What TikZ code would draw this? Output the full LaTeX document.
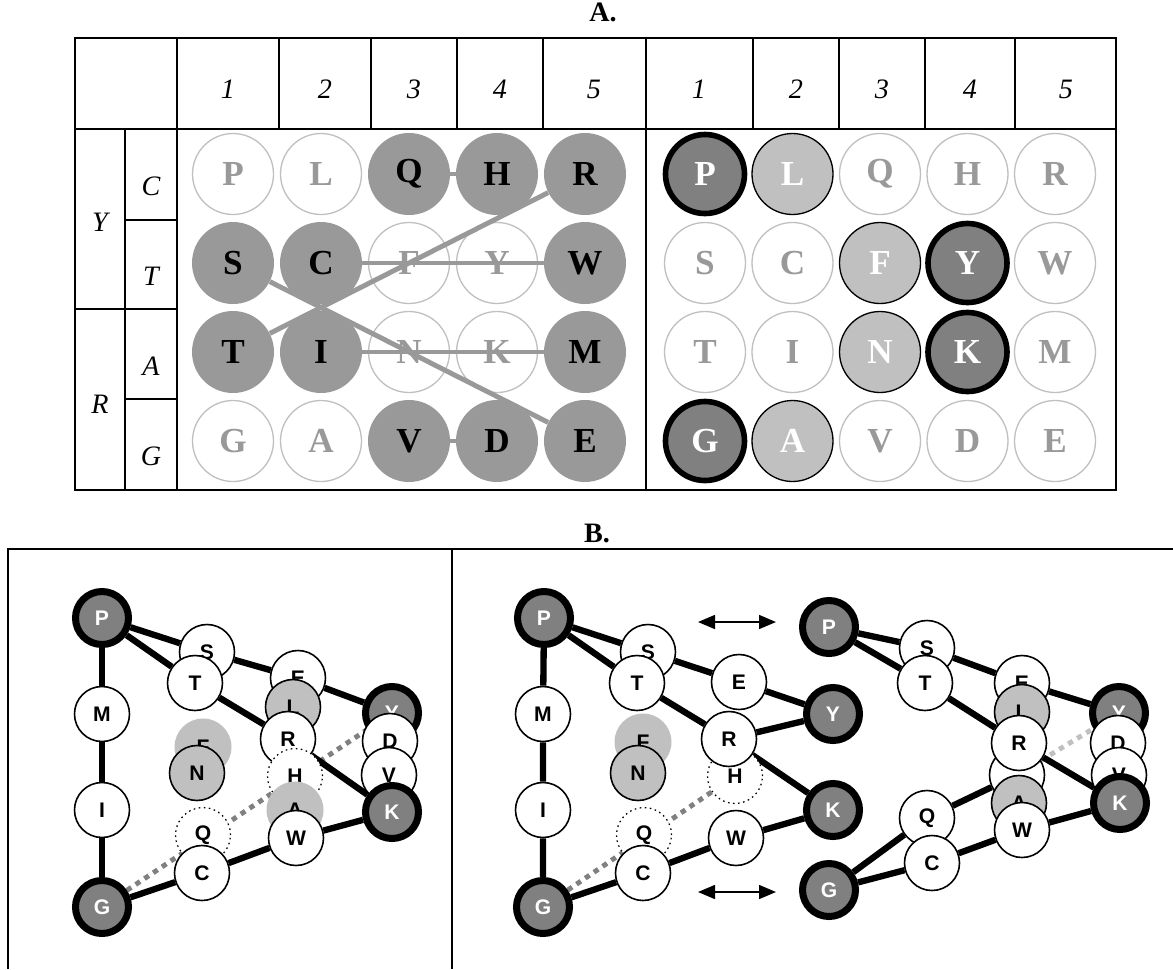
\documentclass[tikz,border=0pt]{standalone}
\usepackage{fontspec}
\setmainfont{Liberation Serif}
\newfontfamily\arialfont{Liberation Sans}
\usetikzlibrary{arrows.meta,backgrounds}
\definecolor{midgray}{HTML}{999999}
\definecolor{keygray}{HTML}{808080}
\definecolor{palegray}{HTML}{C0C0C0}

\begin{document}
\begin{tikzpicture}[x=0.2mm,y=-0.2mm,
  gridline/.style={line width=1.1pt},
  headtxt/.style={font=\fontsize{16}{19}\selectfont\itshape},
  titletxt/.style={font=\fontsize{16}{19}\selectfont\bfseries},
  cell/.style={circle,inner sep=0pt,minimum size=1.62cm,font=\fontsize{20}{24}\selectfont\bfseries},
  offcell/.style={cell,draw=palegray,line width=0.75pt,fill=white,text=midgray},
  oncell/.style={cell,minimum size=1.64cm,fill=midgray,text=black},
  keycell/.style={cell,minimum size=1.58cm,draw=black,line width=3.2pt,fill=keygray,text=white},
  sidecell/.style={cell,draw=black,line width=0.75pt,fill=palegray,text=white},
  gridtrace/.style={midgray,line width=2.8pt},
  res/.style={circle,inner sep=0pt,minimum size=1.1cm,draw=black,line width=0.9pt,fill=white,
    font=\arialfont\fontsize{12}{14}\selectfont\bfseries},
  hub/.style={res,minimum size=1.06cm,line width=4pt,fill=keygray,text=white},
  shadedres/.style={res,fill=palegray},
  ghost/.style={res,draw=none,fill=palegray,minimum size=1.14cm},
  hole/.style={res,dotted,line width=0.7pt},
  bond/.style={line width=3.6pt},
  link/.style={keygray,line width=2.8pt,dash pattern=on 3pt off 3pt},
  exchange/.style={line width=0.9pt,{Triangle[length=3.4mm,width=2.8mm]}-{Triangle[length=3.4mm,width=2.8mm]}}]
\useasboundingbox (0,0) rectangle (1173,969);

% Part A: table frame
\node[titletxt] (titleA) at (603,12) {A.};
\draw[gridline] (75,38) rectangle (1116,490);
\draw[gridline] (75,129) -- (1116,129);
\draw[gridline] (177,38) -- (177,490);
\draw[gridline] (646,38) -- (646,490);
\draw[gridline] (125,129) -- (125,490);
\draw[gridline] (75,309) -- (177,309);
\draw[gridline] (125,220) -- (177,220);
\draw[gridline] (125,399) -- (177,399);
\foreach \x in {279,371,457,543,753,839,925,1015}
  \draw[gridline] (\x,38) -- (\x,129);

% column and row headings
\foreach \n/\x in {1/228,2/325,3/414,4/500,5/594}
  \node[headtxt] (hl-\n) at (\x,89) {\n};
\foreach \n/\x in {1/699,2/796,3/882,4/970,5/1066}
  \node[headtxt] (hr-\n) at (\x,89) {\n};
\node[headtxt] (rowY) at (100,222) {Y};
\node[headtxt] (rowR) at (100,404) {R};
\node[headtxt] (rowC) at (151,186) {C};
\node[headtxt] (rowT) at (151,276) {T};
\node[headtxt] (rowA) at (151,366) {A};
\node[headtxt] (rowG) at (151,456) {G};

% left grid
\foreach \l/\c/\r in {P/1/1,L/2/1,F/3/2,Y/4/2,N/3/3,K/4/3,G/1/4,A/2/4}
  \node[offcell] (gl-\l) at ({145+88*\c},{85+89*\r}) {\l};
\foreach \l/\c/\r in {Q/3/1,H/4/1,R/5/1,S/1/2,C/2/2,W/5/2,T/1/3,I/2/3,M/5/3,V/3/4,D/4/4,E/5/4}
  \node[oncell] (gl-\l) at ({145+88*\c},{85+89*\r}) {\l};
\draw[gridtrace] (gl-Q) -- (gl-H);
\draw[gridtrace] (gl-V) -- (gl-D);
\draw[gridtrace] (gl-C) -- (gl-W);
\draw[gridtrace] (gl-I) -- (gl-M);
\draw[gridtrace] (gl-R) -- (gl-T);
\draw[gridtrace] (gl-S) -- (gl-E);

% right grid
\foreach \l/\c/\r in {Q/3/1,H/4/1,R/5/1,S/1/2,C/2/2,W/5/2,T/1/3,I/2/3,M/5/3,V/3/4,D/4/4,E/5/4}
  \node[offcell] (gr-\l) at ({617.5+87.5*\c},{85+89*\r}) {\l};
\foreach \l/\c/\r in {L/2/1,F/3/2,N/3/3,A/2/4}
  \node[sidecell] (gr-\l) at ({617.5+87.5*\c},{85+89*\r}) {\l};
\foreach \l/\c/\r in {P/1/1,Y/4/2,K/4/3,G/1/4}
  \node[keycell] (gr-\l) at ({617.5+87.5*\c},{85+89*\r}) {\l};

% Part B: frame
\node[titletxt] (titleB) at (597,533) {B.};
\draw[gridline] (8,969) -- (8,549) -- (1173,549);
\draw[gridline] (452,549) -- (452,969);

% left panel
\node[hub] (bl-P) at (102,618) {P};
\node[res] (bl-M) at (102,714) {M};
\node[res] (bl-I) at (102,810) {I};
\node[hub] (bl-G) at (102,907) {G};
\node[res] (bl-S) at (207,652) {S};
\node[res] (bl-T) at (195,683) {T};
\node[res] (bl-E) at (298,678) {E};
\node[shadedres] (bl-L) at (293,707) {L};
\node[res] (bl-R) at (288,739) {R};
\node[hole] (bl-H) at (295,776) {H};
\node[ghost] (bl-A) at (295,810) {A};
\node[res] (bl-W) at (296,838) {W};
\node[hub] (bl-Y) at (392,713) {Y};
\node[res] (bl-D) at (390,741) {D};
\node[res] (bl-V) at (389,775) {V};
\node[hub] (bl-K) at (392,812) {K};
\node[ghost] (bl-F) at (203,747) {F};
\node[shadedres] (bl-N) at (197,773) {N};
\node[hole] (bl-Q) at (203,835) {Q};
\node[res] (bl-C) at (202,873) {C};
\begin{scope}[on background layer]
\draw[link] (bl-G) -- (bl-Y);
\draw[bond] (bl-P) -- (bl-S) -- (bl-E) -- (bl-Y);
\draw[bond] (bl-P) -- (bl-T) -- (bl-R) -- (bl-K);
\draw[bond] (bl-P) -- (bl-M) -- (bl-I) -- (bl-G);
\draw[bond] (bl-G) -- (bl-C) -- (bl-W) -- (bl-K);
\end{scope}

% middle panel
\node[hub] (bm-P) at (544,618) {P};
\node[res] (bm-M) at (543,714) {M};
\node[res] (bm-I) at (543,810) {I};
\node[hub] (bm-G) at (543,907) {G};
\node[res] (bm-S) at (648,652) {S};
\node[res] (bm-T) at (637,683) {T};
\node[res] (bm-E) at (739,682) {E};
\node[hole] (bm-H) at (735,776) {H};
\node[res] (bm-R) at (729,739) {R};
\node[res] (bm-W) at (736,838) {W};
\node[ghost] (bm-F) at (643,742) {F};
\node[shadedres] (bm-N) at (638,773) {N};
\node[hole] (bm-Q) at (644,835) {Q};
\node[res] (bm-C) at (643,873) {C};
\node[hub] (bm-Y) at (833,714) {Y};
\node[hub] (bm-K) at (833,810) {K};
\begin{scope}[on background layer]
\draw[link] (bm-G) -- (bm-H);
\draw[bond] (bm-P) -- (bm-S) -- (bm-E) -- (bm-Y);
\draw[bond] (bm-P) -- (bm-T) -- (bm-R) -- (bm-K);
\draw[bond] (bm-R) -- (bm-Y);
\draw[bond] (bm-P) -- (bm-M) -- (bm-I) -- (bm-G);
\draw[bond] (bm-G) -- (bm-C) -- (bm-W) -- (bm-K);
\end{scope}

% swap arrows
\coordinate (swapT-a) at (698,622);
\coordinate (swapT-b) at (776,622);
\coordinate (swapB-a) at (698,892);
\coordinate (swapB-b) at (776,892);
\draw[exchange] (swapT-a) -- (swapT-b);
\draw[exchange] (swapB-a) -- (swapB-b);

% right panel
\node[hub] (br-P) at (829,627) {P};
\node[res] (br-S) at (927,648) {S};
\node[res] (br-T) at (925,683) {T};
\node[res] (br-E) at (1022,683) {E};
\node[shadedres] (br-L) at (1022,712) {L};
\node[res] (br-H) at (1017,775) {};
\node[res] (br-R) at (1019,743) {R};
\node[shadedres] (br-A) at (1019,803) {A};
\node[res] (br-W) at (1022,830) {W};
\node[hub] (br-Y) at (1119,713) {Y};
\node[res] (br-D) at (1118,743) {D};
\node[res] (br-V) at (1119,775) {V};
\node[hub] (br-K) at (1120,803) {K};
\node[res] (br-Q) at (927,818) {Q};
\node[res] (br-C) at (932,863) {C};
\node[hub] (br-G) at (829,890) {G};
\begin{scope}[on background layer]
\draw[link,palegray] (br-H) -- (br-Y);
\draw[bond] (br-P) -- (br-S) -- (br-E) -- (br-Y);
\draw[bond] (br-P) -- (br-T) -- (br-R) -- (br-K);
\draw[bond] (br-G) -- (br-Q) -- (br-H);
\draw[bond] (br-G) -- (br-C) -- (br-W) -- (br-K);
\end{scope}
\end{tikzpicture}
\end{document}
